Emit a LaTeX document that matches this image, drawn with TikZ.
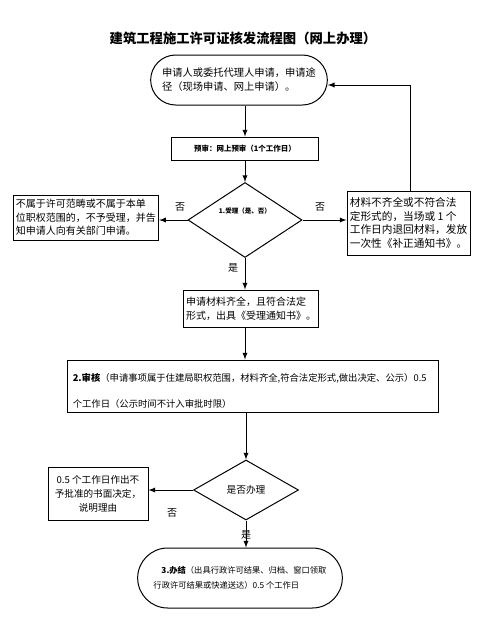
\documentclass[tikz,border=0pt]{standalone}
\usepackage{fontspec}
\setmainfont{Noto Sans CJK SC}
\usetikzlibrary{shapes.geometric,shapes.misc,calc}

\tikzset{
  box/.style={draw,rectangle,inner sep=2pt,align=left,line width=0.75pt},
  decision/.style={draw,diamond,inner sep=0pt,line width=0.75pt},
  terminal/.style={draw,rounded rectangle,inner sep=2pt,align=left,line width=0.75pt},
  flow/.style={-latex,line width=0.75pt},
  tag/.style={font=\fontsize{7.5}{9}\selectfont},
}

\begin{document}
\begin{tikzpicture}[x=0.75pt,y=-0.75pt]
  \useasboundingbox (0,0) rectangle (482,633);

  \node[font=\bfseries\fontsize{10}{12}\selectfont] (title) at (243,38) {建筑工程施工许可证核发流程图（网上办理）};

  \node[terminal, minimum width=136.5pt, minimum height=37.5pt, font=\fontsize{7.7}{10.5}\selectfont] (start) at (239,80)
    {申请人或委托代理人申请，申请途\\径（现场申请、网上申请）。};
  \node[box, minimum width=110.25pt, minimum height=17.25pt, font=\bfseries\fontsize{5.6}{7}\selectfont] (pretrial) at (245,148.5)
    {预审：网上预审（1个工作日）};
  \node[decision, minimum width=85.5pt, minimum height=56.25pt] (accept) at (245,220) {};
  \node[font=\bfseries\fontsize{4.9}{6}\selectfont] (accepttxt) at ($(accept)+(0,-9)$) {1.受理（是、否）};
  \node[box, minimum width=108pt, minimum height=33.75pt, font=\fontsize{7.5}{10}\selectfont] (reject) at (86,217.5)
    {不属于许可范畴或不属于本单\\位职权范围的，不予受理，并告\\知申请人向有关部门申请。};
  \node[box, minimum width=92.25pt, minimum height=48pt, font=\fontsize{8}{10.3}\selectfont] (supplement) at (408.5,223)
    {材料不齐全或不符合法\\定形式的，当场或 1 个\\工作日内退回材料，发放\\一次性《补正通知书》。};
  \node[box, minimum width=99pt, minimum height=27.75pt, font=\fontsize{7.5}{10.5}\selectfont] (accepted) at (251,308.5)
    {申请材料齐全，且符合法定\\形式，出具《受理通知书》。};
  \node[box, minimum width=278.25pt, minimum height=39pt] (review) at (252.5,386) {};
  \node[anchor=west, align=left, inner sep=0pt, font=\fontsize{7}{19.5}\selectfont] (reviewtxt) at ($(review.west)+(6,5)$)
    {\textbf{2.审核}（申请事项属于住建局职权范围，材料齐全,符合法定形式,做出决定、公示）0.5\\个工作日（公示时间不计入审批时限）};
  \node[decision, minimum width=78.75pt, minimum height=45pt, font=\fontsize{7.3}{9}\selectfont] (handle) at (246,490) {是否办理};
  \node[box, align=center, minimum width=75pt, minimum height=40pt, font=\fontsize{7.2}{10.5}\selectfont] (refuse) at (98,494)
    {0.5 个工作日作出不\\予批准的书面决定，\\说明理由};
  \node[terminal, minimum width=157.5pt, minimum height=45pt, font=\fontsize{6.2}{11.25}\selectfont] (finish) at (240,578)
    {\hspace{6pt}\textbf{3.办结}（出具行政许可结果、归档、窗口领取\\行政许可结果或快递送达）0.5 个工作日};

  \node[tag] (no1) at (180,207) {否};
  \node[tag] (no2) at (320,207) {否};
  \node[tag] (yes1) at (233,268) {是};
  \node[tag] (no3) at (172,513) {否};
  \node[tag] (yes2) at (246,535) {是};
  \coordinate (fb) at (410,85);

  \draw[flow] (pretrial.north |- start.south) -- (pretrial.north);
  \draw[flow] (pretrial.south) -- (accept.north);
  \draw[flow] (accept.west) -- (accept.west -| reject.east);
  \draw[flow] (accept.east) -- (accept.east -| supplement.west);
  \draw[flow] (supplement.north -| fb) -- (fb) -- (fb -| start.east);
  \draw[flow] (accept.south) -- (accept.south |- accepted.north);
  \draw[flow] (accepted.south -| accept) -- (accept |- review.north);
  \draw[flow] (handle |- review.south) -- (handle.north);
  \draw[flow] (handle.west) -- (handle.west -| refuse.east);
  \draw[flow] (handle.south) -- (handle.south |- finish.north);
\end{tikzpicture}
\end{document}
